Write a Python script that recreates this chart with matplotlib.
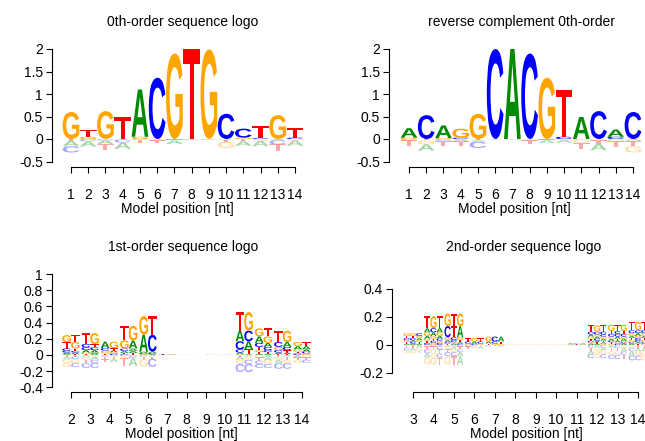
import matplotlib
matplotlib.use("Agg")
import matplotlib.pyplot as plt
from matplotlib.textpath import TextPath
from matplotlib.patches import PathPatch
from matplotlib.font_manager import FontProperties
from matplotlib.transforms import Affine2D

plt.rcParams["font.family"] = ["Liberation Sans", "DejaVu Sans"]
plt.rcParams["font.size"] = 10

# ---- 0th-order logo: signed letter heights per position ----
pos0 = list(range(1, 15))
A0 = [-0.12, -0.12, -0.08, -0.14, 1.05, -0.02, -0.08, -0.01, -0.01, -0.02, -0.10, -0.12, -0.03, -0.12]
C0 = [-0.14, -0.05, -0.03, -0.07, -0.02, 1.36, -0.01, -0.01, -0.01, 0.56, 0.20, 0.02, -0.09, 0.03]
G0 = [0.60, 0.05, 0.62, -0.01, 0.05, -0.01, 1.90, -0.01, 1.99, -0.14, 0.03, -0.04, 0.53, -0.03]
T0 = [-0.04, 0.16, -0.14, 0.49, -0.06, -0.06, -0.02, 2.00, -0.01, -0.04, -0.05, 0.28, -0.14, 0.21]

# ---- reverse complement 0th-order ----
A_rc = [0.21, -0.14, 0.28, -0.05, -0.04, -0.01, 2.00, -0.02, -0.06, -0.06, 0.49, -0.14, 0.16, -0.04]
C_rc = [-0.03, 0.53, -0.04, 0.03, -0.14, 2.00, -0.01, 1.90, -0.01, 0.05, -0.01, 0.62, 0.05, 0.60]
G_rc = [0.03, -0.09, 0.02, 0.20, 0.56, -0.01, -0.01, -0.01, 1.36, -0.02, -0.07, -0.03, -0.05, -0.14]
T_rc = [-0.12, -0.03, -0.12, -0.10, -0.02, -0.01, -0.01, -0.08, -0.02, 1.05, -0.14, -0.08, -0.12, -0.12]

# ---- 1st-order logo: (dinucleotide, signed height) per position ----
pos1 = list(range(2, 15))
stack1 = [
    [("AT", .01), ("AA", .02), ("CC", .02), ("CT", .03), ("TG", .08), ("GT", .085),
     ("TT", -.02), ("AC", -.03), ("GG", -.05), ("GC", -.05)],
    [("TA", .01), ("GA", .02), ("AA", .03), ("CC", .035), ("CT", .04), ("TG", .135),
     ("AG", -.02), ("GA", -.04), ("TC", -.04), ("CC", -.06)],
    [("TC", .015), ("GG", .02), ("GA", .02), ("CT", .03), ("AG", .08),
     ("CA", -.02), ("TT", -.03), ("TA", -.035)],
    [("CT", .01), ("TT", .015), ("AA", .025), ("CA", .03), ("GA", .10), ("TG", .18),
     ("CC", -.015), ("GC", -.02), ("TA", -.10)],
    [("GA", .01), ("CC", .015), ("AA", .015), ("AC", .21), ("GT", .23),
     ("CA", -.02), ("TT", -.025), ("GC", -.10)],
    [("CA", .004), ("TG", .008), ("GT", -.003)],
    [("GG", .002), ("TT", -.003)],
    [("TC", .002), ("TT", -.003)],
    [("GA", .002), ("GG", -.003)],
    [("GA", .01), ("AT", .02), ("CT", .04), ("CA", .10), ("AC", .13), ("TG", .23),
     ("TA", -.02), ("AG", -.04), ("GC", -.05), ("CC", -.10)],
    [("AA", .015), ("TT", .02), ("GC", .025), ("TC", .04), ("CA", .05), ("AG", .08), ("GT", .10),
     ("GA", -.03), ("TA", -.04), ("CG", -.04), ("CC", -.05)],
    [("TT", .01), ("AA", .02), ("CT", .03), ("GC", .04), ("CA", .06), ("TG", .14),
     ("TA", -.02), ("GT", -.04), ("AG", -.04), ("CC", -.07)],
    [("CG", .02), ("TC", .02), ("GA", .03), ("AA", .04), ("GT", .05),
     ("AG", -.03), ("TT", -.03), ("GC", -.04)],
]

# ---- 2nd-order logo: (trinucleotide, signed height) per position ----
pos2 = list(range(3, 15))
stack2 = [
    [("AAA", .01), ("TCT", .012), ("GAG", .012), ("CCA", .015), ("TTG", .015), ("GGC", .02),
     ("TTA", -.02), ("CAG", -.02), ("GGT", -.02)],
    [("CGC", .015), ("TCG", .015), ("GTC", .015), ("AGA", .02), ("GAG", .025), ("ACA", .03), ("TGT", .085),
     ("GCA", -.01), ("TTC", -.02), ("CGT", -.03), ("AGC", -.03), ("GGT", -.05)],
    [("TAC", .01), ("CGA", .01), ("ACT", .015), ("GCG", .02), ("CTA", .08), ("GTG", .09),
     ("ACC", -.01), ("GAT", -.02), ("TGC", -.02), ("CCA", -.03), ("GTA", -.06)],
    [("GCG", .01), ("CAC", .015), ("TGT", .025), ("CCT", -.01), ("TGA", -.015)],
    [("TGG", .01), ("ACT", .015), ("GCA", .035), ("CTC", -.01)],
    [("GGG", .002), ("TTT", -.002)],
    [("GGG", .002), ("TTT", -.002)],
    [("GGG", .002), ("TTT", -.002)],
    [("GTG", .005), ("ACA", .006), ("TCT", -.002)],
    [("AAG", .01), ("GTA", .01), ("CAT", .01), ("TCA", .015), ("GAG", .015), ("AGC", .015), ("CCC", .02), ("TGT", .045),
     ("CAC", -.02), ("TGA", -.02), ("AGG", -.025), ("CGC", -.03)],
    [("GCA", .01), ("TGC", .01), ("CAG", .01), ("ATA", .015), ("GAG", .015), ("CCC", .02), ("TCT", .02), ("GTG", .045),
     ("ACG", -.02), ("TTA", -.025), ("GGC", -.025), ("CCT", -.03)],
    [("ATG", .01), ("CAC", .01), ("GCG", .015), ("TCT", .015), ("AGA", .015), ("GAG", .02), ("CCC", .02), ("TGT", .06),
     ("GTT", -.02), ("CAA", -.025), ("AGG", -.03), ("CCG", -.035)],
]

COL = {"A": "#008B00", "C": "#0000FF", "G": "#FFA500", "T": "#FF0000"}
FP = FontProperties(family="Liberation Sans", weight="bold")
W, H = 645, 441
_glyphs = {}


def glyph(ch):
    if ch not in _glyphs:
        p = TextPath((0, 0), ch, size=1, prop=FP)
        _glyphs[ch] = (p, p.get_extents())
    return _glyphs[ch]


def draw_word(ax, word, x0, y0, w, h, alpha):
    n = len(word)
    for i, ch in enumerate(word):
        p, bb = glyph(ch)
        tr = (Affine2D().translate(-bb.x0, -bb.y0)
              .scale(w / n / bb.width, h / bb.height)
              .translate(x0 + i * w / n, y0))
        ax.add_patch(PathPatch(tr.transform_path(p), fc=COL[ch], ec="none",
                               lw=0, alpha=alpha, clip_on=False))


def draw_column(ax, x, items, width):
    y = 0
    for wd, h in sorted([it for it in items if it[1] > 0], key=lambda t: t[1]):
        draw_word(ax, wd, x - width / 2, y, width, h, 1.0)
        y += h
    y = 0
    for wd, h in sorted([it for it in items if it[1] < 0], key=lambda t: -t[1]):
        draw_word(ax, wd, x - width / 2, y + h, width, -h, 0.35)
        y += h


def make_axes(fig, box, xmap, ymap, xticks, yticks, ylabels):
    l, t, r, b = box
    ax = fig.add_axes([l / W, 1 - b / H, (r - l) / W, (b - t) / H])
    (xa, pa), (xb, pb) = xmap
    sx = (pb - pa) / (xb - xa)
    ax.set_xlim(xa + (l - pa) / sx, xa + (r - pa) / sx)
    (ya, qa), (yb, qb) = ymap
    sy = (qb - qa) / (yb - ya)
    ax.set_ylim(ya + (b - qa) / sy, ya + (t - qa) / sy)
    for s in ("top", "right"):
        ax.spines[s].set_visible(False)
    ax.spines["left"].set_bounds(yticks[0], yticks[-1])
    ax.spines["bottom"].set_bounds(xticks[0], xticks[-1])
    for s in ("left", "bottom"):
        ax.spines[s].set_linewidth(0.8)
    ax.set_xticks(xticks, [str(v) for v in xticks])
    ax.set_yticks(yticks, ylabels)
    ax.tick_params(axis="x", length=4.5, width=0.8, pad=10.5)
    ax.tick_params(axis="y", length=4.5, width=0.8, pad=2)
    ax.set_xlabel("Model position [nt]", labelpad=0)
    ax.patch.set_visible(False)
    return ax


fig = plt.figure(figsize=(6.45, 4.41), dpi=100)

yt0 = [-0.5, 0, 0.5, 1, 1.5, 2]
yl0 = ["-0.5", "0", "0.5", "1", "1.5", "2"]

ax1 = make_axes(fig, (52, 40, 302, 167), ((1, 71), (14, 295)), ((0, 139), (2, 49)), pos0, yt0, yl0)
for i, x in enumerate(pos0):
    draw_column(ax1, x, [("A", A0[i]), ("C", C0[i]), ("G", G0[i]), ("T", T0[i])], 0.97)

ax2 = make_axes(fig, (389, 40, 640, 167), ((1, 409), (14, 633)), ((0, 139), (2, 49)), pos0, yt0, yl0)
for i, x in enumerate(pos0):
    draw_column(ax2, x, [("A", A_rc[i]), ("C", C_rc[i]), ("G", G_rc[i]), ("T", T_rc[i])], 0.97)

yt1 = [-0.4, -0.2, 0, 0.2, 0.4, 0.6, 0.8, 1]
yl1 = ["-0.4", "-0.2", "0", "0.2", "0.4", "0.6", "0.8", "1"]
ax3 = make_axes(fig, (52, 265, 310, 392), ((2, 71), (14, 302)), ((0, 355), (1, 274)), pos1, yt1, yl1)
for x, items in zip(pos1, stack1):
    draw_column(ax3, x, items, 0.9)

yt2 = [-0.2, 0, 0.2, 0.4]
yl2 = ["-0.2", "0", "0.2", "0.4"]
ax4 = make_axes(fig, (392, 270, 660, 392), ((3, 413), (14, 638)), ((0.4, 289), (-0.2, 373)), pos2, yt2, yl2)
for x, items in zip(pos2, stack2):
    draw_column(ax4, x, items, 0.92)

titles = ["0th-order sequence logo", "reverse complement 0th-order",
          "1st-order sequence logo", "2nd-order sequence logo"]
for txt, (cx, cy) in zip(titles, [(183, 22), (522, 22), (183, 247), (524, 247)]):
    fig.text(cx / W, 1 - cy / H, txt, ha="center", va="center", fontsize=10)

fig.savefig("out.png", dpi=100)
